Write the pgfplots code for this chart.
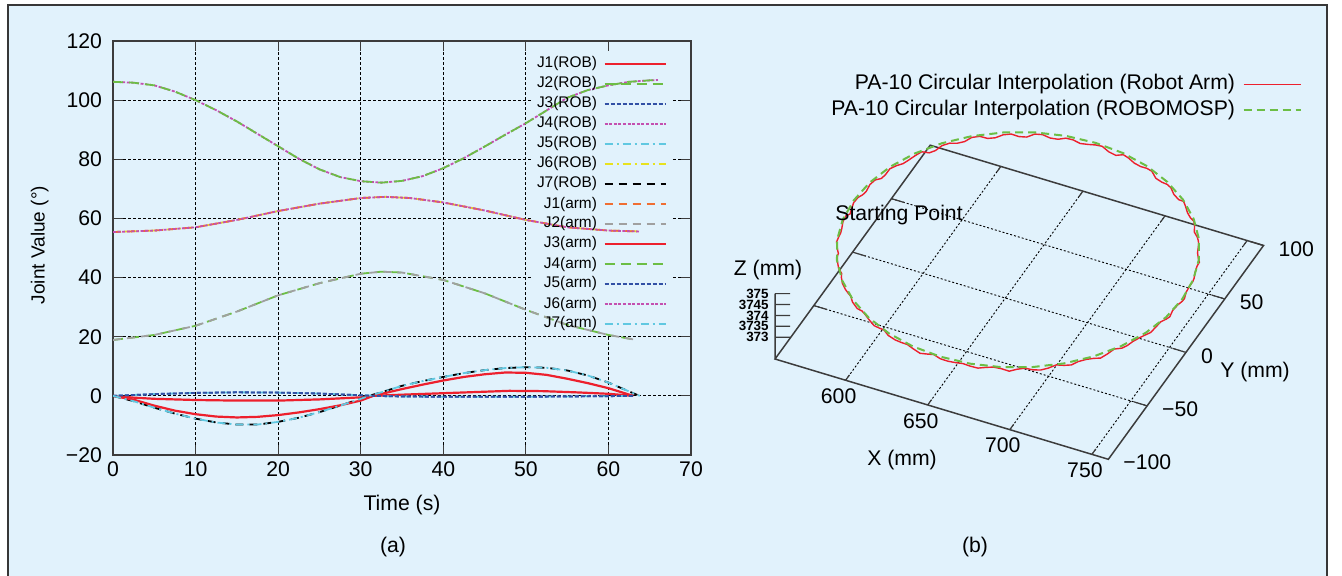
\documentclass[border=0pt]{standalone}
\usepackage{fontspec}
\setmainfont{Liberation Sans}
\usepackage{pgfplots}
\pgfplotsset{compat=1.18}

\definecolor{bgblue}{RGB}{225,242,252}
\definecolor{framegray}{RGB}{55,55,55}
\definecolor{axisgray}{RGB}{60,60,60}
\definecolor{gpred}{RGB}{237,32,45}
\definecolor{gpgreen}{RGB}{108,190,69}
\definecolor{gpblue}{RGB}{50,80,165}
\definecolor{gpmag}{RGB}{196,80,176}
\definecolor{gpcyan}{RGB}{96,200,225}
\definecolor{gpyellow}{RGB}{232,226,30}
\definecolor{gporange}{RGB}{240,110,50}
\definecolor{gpgray}{RGB}{160,160,160}

\newcommand\tickfont{\fontsize{10.6}{12}\selectfont}
\newcommand\legfont{\fontsize{7.7}{9}\selectfont}
\newcommand\ztickfont{\fontsize{6.7}{7}\selectfont\bfseries}

\begin{document}
\begin{tikzpicture}
\fill[bgblue] (4pt,-5pt) rectangle (663.5pt,285pt);

% ---------------- (a) joint values ----------------
\begin{axis}[
  at={(56.5pt,60pt)}, anchor=south west,
  scale only axis, width=289pt, height=207pt,
  xmin=0, xmax=70, ymin=-20, ymax=120,
  xtick={0,10,20,30,40,50,60,70},
  ytick={-20,0,20,40,60,80,100,120},
  yticklabels={−20,0,20,40,60,80,100,120},
  /pgf/number format/assume math mode=true,
  tick label style={font=\tickfont, text=black},
  yticklabel style={xshift=-2pt},
  tick align=inside, tick pos=both, major tick length=5pt,
  tick style={axisgray, line width=0.6pt},
  grid=major,
  grid style={black, line width=0.45pt, dash pattern=on 1.5pt off 1pt},
  axis line style={axisgray, line width=0.75pt},
  xlabel={Time (s)}, ylabel={Joint Value (°)},
  label style={font=\tickfont},
  xlabel style={at={(axis description cs:0.5,-0.121)}, anchor=center},
  ylabel style={at={(axis description cs:-0.127,0.507)}, anchor=center,
                font=\fontsize{9.5}{11}\selectfont},
  every axis plot/.append style={line width=0.9pt},
  legend cell align=right, legend plot pos=right,
  legend image code/.code={\draw[#1] (0pt,0pt) -- (30.5pt,0pt);},
  legend style={draw=none, fill=none, font=\legfont,
    at={(axis description cs:0.9585,0.965)}, anchor=north east,
    inner sep=0pt, row sep=2pt, column sep=3pt,
    nodes={inner sep=0.25pt, text height=5.8pt, text depth=1.7pt}},
]
% key background hides the grid behind the labels
\fill[bgblue] (axis cs:50.9,21) rectangle (axis cs:67.7,116.5);

\addplot[gpred, line width=1.1pt] coordinates {(0,0) (2.5,-0.6) (5,-1.0) (10,-1.4) (15,-1.6) (20,-1.6) (25,-1.2) (30,-0.5) (31.5,0) (35,0.4) (40,0.9) (45,1.4) (48,1.7) (52,1.6) (56,1.2) (60,0.7) (63,0)};
\addlegendentry{J1(ROB)}
\addplot[gpgreen, dash pattern=on 5pt off 3pt] coordinates {(0,18.9) (5,20.6) (10,23.7) (15,28.5) (20,34.0) (25,38.1) (30,41.3) (32.5,42.0) (35,41.7) (40,39.2) (45,34.7) (50,29.1) (55,24.0) (60,20.6) (63.2,19.0)};
\addlegendentry{J2(ROB)}
\addplot[gpblue, dash pattern=on 2pt off 1pt] coordinates {(0,0) (5,0.6) (10,1.0) (15,1.2) (20,1.1) (25,0.8) (30,0.2) (31.5,0) (35,-0.2) (40,-0.3) (45,-0.3) (50,-0.3) (55,-0.2) (60,-0.1) (63,0)};
\addlegendentry{J3(ROB)}
\addplot[gpmag, dash pattern=on 1.5pt off 0.8pt] coordinates {(0,106.2) (2.5,105.9) (5,105.0) (7.5,102.9) (10,100.0) (12.5,96.6) (15,92.8) (17.5,88.6) (20,84.4) (22.5,80.2) (25,76.6) (27.5,74.0) (30,72.6) (32.5,72.1) (35,72.7) (37.5,74.3) (40,77.0) (42.5,80.4) (45,84.3) (47.5,88.3) (50,92.2) (52.5,96.5) (55,100.8) (57.5,103.4) (60,105.0) (62.5,106.2) (65,106.7) (66,106.8)};
\addlegendentry{J4(ROB)}
\addplot[gpcyan, dash pattern=on 4pt off 2pt on 1pt off 2pt] coordinates {(0,0) (5,0.6) (10,1.0) (15,1.2) (20,1.1) (25,0.8) (30,0.2) (31.5,0) (35,-0.2) (40,-0.3) (45,-0.3) (50,-0.3) (55,-0.2) (60,-0.1) (63,0)};
\addlegendentry{J5(ROB)}
\addplot[gpyellow, dash pattern=on 4pt off 2pt on 1pt off 2pt] coordinates {(0,55.4) (5,55.9) (10,57.0) (15,59.5) (20,62.5) (25,65.0) (30,66.9) (33,67.3) (36,66.9) (40,65.4) (45,62.7) (50,59.5) (55,57.0) (60,55.9) (63.7,55.6)};
\addlegendentry{J6(ROB)}
\addplot[black, dash pattern=on 4pt off 3pt] coordinates {(0,0) (2.5,-1.8) (5,-4.0) (7.5,-6.0) (10,-7.7) (12.5,-9.0) (15,-9.7) (17.5,-9.7) (20,-8.8) (22.5,-7.4) (25,-5.5) (27.5,-3.3) (30,-1.0) (31,0) (32.5,1.2) (35,3.4) (37.5,5.0) (40,6.4) (42.5,7.7) (45,8.7) (47.5,9.4) (50,9.7) (52.5,9.5) (55,8.6) (57.5,6.9) (60,4.5) (62.5,1.5) (63.5,0.3)};
\addlegendentry{J7(ROB)}
\addplot[gporange, dash pattern=on 4pt off 3pt] coordinates {(0,55.4) (5,55.9) (10,57.0) (15,59.5) (20,62.5) (25,65.0) (30,66.9) (33,67.3) (36,66.9) (40,65.4) (45,62.7) (50,59.5) (55,57.0) (60,55.9) (63.7,55.6)};
\addlegendentry{J1(arm)}
\addplot[gpgray, dash pattern=on 4pt off 3pt] coordinates {(0,18.9) (5,20.6) (10,23.7) (15,28.5) (20,34.0) (25,38.1) (30,41.3) (32.5,42.0) (35,41.7) (40,39.2) (45,34.7) (50,29.1) (55,24.0) (60,20.6) (63.2,19.0)};
\addlegendentry{J2(arm)}
\addplot[gpred, line width=1.1pt] coordinates {(0,0) (2.5,-1.3) (5,-3.3) (7.5,-5.0) (10,-6.2) (12.5,-7.0) (15,-7.3) (17.5,-7.1) (20,-6.5) (22.5,-5.6) (25,-4.5) (27.5,-3.2) (30,-1.6) (31.5,0) (35,2.3) (37.5,3.8) (40,5.2) (42.5,6.4) (45,7.3) (47.5,7.9) (50,7.8) (52.5,7.1) (55,5.8) (57.5,4.3) (60,2.6) (63,0)};
\addlegendentry{J3(arm)}
\addplot[gpgreen, dash pattern=on 5pt off 3pt] coordinates {(0,106.2) (2.5,105.9) (5,105.0) (7.5,102.9) (10,100.0) (12.5,96.6) (15,92.8) (17.5,88.6) (20,84.4) (22.5,80.2) (25,76.6) (27.5,74.0) (30,72.6) (32.5,72.1) (35,72.7) (37.5,74.3) (40,77.0) (42.5,80.4) (45,84.3) (47.5,88.3) (50,92.2) (52.5,96.5) (55,100.8) (57.5,103.4) (60,105.0) (62.5,106.2) (65,106.7) (66,106.8)};
\addlegendentry{J4(arm)}
\addplot[gpblue, dash pattern=on 2pt off 1pt] coordinates {(0,0) (5,0.6) (10,1.0) (15,1.2) (20,1.1) (25,0.8) (30,0.2) (31.5,0) (35,-0.2) (40,-0.3) (45,-0.3) (50,-0.3) (55,-0.2) (60,-0.1) (63,0)};
\addlegendentry{J5(arm)}
\addplot[gpmag, dash pattern=on 1.5pt off 0.8pt] coordinates {(0,55.4) (5,55.9) (10,57.0) (15,59.5) (20,62.5) (25,65.0) (30,66.9) (33,67.3) (36,66.9) (40,65.4) (45,62.7) (50,59.5) (55,57.0) (60,55.9) (63.7,55.6)};
\addlegendentry{J6(arm)}
\addplot[gpcyan, dash pattern=on 4pt off 2pt on 1pt off 2pt] coordinates {(0,0) (2.5,-1.8) (5,-4.0) (7.5,-6.0) (10,-7.7) (12.5,-9.0) (15,-9.7) (17.5,-9.7) (20,-8.8) (22.5,-7.4) (25,-5.5) (27.5,-3.3) (30,-1.0) (31,0) (32.5,1.2) (35,3.4) (37.5,5.0) (40,6.4) (42.5,7.7) (45,8.7) (47.5,9.4) (50,9.7) (52.5,9.5) (55,8.6) (57.5,6.9) (60,4.5) (62.5,1.5) (63.8,0)};
\addlegendentry{J7(arm)}
\end{axis}

% ---------------- (b) circular interpolation, 3-D ----------------
% anchor=origin is the origin clipped to the limits: (557,0,372)
\begin{axis}[
  at={(426.3pt,161.45pt)}, anchor=origin,
  x={(0.821pt,-0.247pt)}, y={(0.388pt,0.5345pt)}, z={(0pt,10.9pt)},
  xmin=557, xmax=760, ymin=-100, ymax=100, zmin=372, zmax=375,
  hide axis, clip=false,
  legend cell align=right, legend plot pos=right,
  legend image code/.code={\draw[#1] (0pt,0pt) -- (28.5pt,0pt);},
  legend style={draw=none, fill=none, font=\tickfont,
    at={(axis cs:783.4,100,380.44)}, anchor=north east,
    inner sep=0pt, row sep=2pt, column sep=3.5pt,
    nodes={inner sep=0.25pt, text height=8pt, text depth=2.5pt}},
]
% base plane, grid, ticks
\draw[black, line width=0.45pt, dash pattern=on 1pt off 1pt]
  (axis cs:600,-100,372) -- (axis cs:600,100,372)
  (axis cs:650,-100,372) -- (axis cs:650,100,372)
  (axis cs:700,-100,372) -- (axis cs:700,100,372)
  (axis cs:750,-100,372) -- (axis cs:750,100,372)
  (axis cs:557,-50,372) -- (axis cs:760,-50,372)
  (axis cs:557,0,372) -- (axis cs:760,0,372)
  (axis cs:557,50,372) -- (axis cs:760,50,372);
\draw[axisgray, line width=0.75pt]
  (axis cs:557,-100,372) -- (axis cs:760,-100,372) -- (axis cs:760,100,372)
  -- (axis cs:557,100,372) -- cycle
  (axis cs:557,-100,372) -- (axis cs:557,-100,375);
\draw[axisgray, line width=0.6pt]
  (axis cs:600,-100,372) -- (axis cs:600,-95,372) (axis cs:600,100,372) -- (axis cs:600,95,372)
  (axis cs:650,-100,372) -- (axis cs:650,-95,372) (axis cs:650,100,372) -- (axis cs:650,95,372)
  (axis cs:700,-100,372) -- (axis cs:700,-95,372) (axis cs:700,100,372) -- (axis cs:700,95,372)
  (axis cs:750,-100,372) -- (axis cs:750,-95,372) (axis cs:750,100,372) -- (axis cs:750,95,372)
  (axis cs:760,-50,372) -- (axis cs:752,-50,372) (axis cs:557,-50,372) -- (axis cs:565,-50,372)
  (axis cs:760,0,372) -- (axis cs:752,0,372) (axis cs:557,0,372) -- (axis cs:565,0,372)
  (axis cs:760,50,372) -- (axis cs:752,50,372) (axis cs:557,50,372) -- (axis cs:565,50,372)
  (axis cs:760,100,372) -- (axis cs:752,100,372)
  (axis cs:557,-100,373) -- ++(7.5pt,0pt)
  (axis cs:557,-100,373.5) -- ++(7.5pt,0pt)
  (axis cs:557,-100,374) -- ++(7.5pt,0pt)
  (axis cs:557,-100,374.5) -- ++(7.5pt,0pt)
  (axis cs:557,-100,375) -- ++(7.5pt,0pt);
\node[font=\tickfont, xshift=-3.5pt, yshift=-8pt] at (axis cs:600,-100,372) {600};
\node[font=\tickfont, xshift=-3.5pt, yshift=-8pt] at (axis cs:650,-100,372) {650};
\node[font=\tickfont, xshift=-3.5pt, yshift=-8pt] at (axis cs:700,-100,372) {700};
\node[font=\tickfont, xshift=-3.5pt, yshift=-8pt] at (axis cs:750,-100,372) {750};
\node[font=\tickfont, anchor=west, xshift=4pt, yshift=-1.7pt] at (axis cs:760,-100,372) {−100};
\node[font=\tickfont, anchor=west, xshift=4pt, yshift=-1.7pt] at (axis cs:760,-50,372) {−50};
\node[font=\tickfont, anchor=west, xshift=4pt, yshift=-1.7pt] at (axis cs:760,0,372) {0};
\node[font=\tickfont, anchor=west, xshift=4pt, yshift=-1.7pt] at (axis cs:760,50,372) {50};
\node[font=\tickfont, anchor=west, xshift=4pt, yshift=-1.7pt] at (axis cs:760,100,372) {100};
\node[font=\ztickfont, anchor=east, xshift=-3pt, inner sep=0pt] at (axis cs:557,-100,373) {373};
\node[font=\ztickfont, anchor=east, xshift=-3pt, inner sep=0pt] at (axis cs:557,-100,373.5) {3735};
\node[font=\ztickfont, anchor=east, xshift=-3pt, inner sep=0pt] at (axis cs:557,-100,374) {374};
\node[font=\ztickfont, anchor=east, xshift=-3pt, inner sep=0pt] at (axis cs:557,-100,374.5) {3745};
\node[font=\ztickfont, anchor=east, xshift=-3pt, inner sep=0pt] at (axis cs:557,-100,375) {375};

\addplot3[gpred, line width=0.7pt] coordinates {
(757.0,1.5,374.20) (756.4,5.8,374.11) (755.3,10.1,374.15) (755.6,14.5,374.26)
(755.3,18.8,374.22) (754.1,23.0,374.14) (752.7,27.1,374.16) (751.9,31.4,374.23)
(751.3,35.8,374.19) (748.9,39.6,374.09) (746.6,43.3,374.14) (745.3,47.4,374.27)
(743.3,51.4,374.21) (740.9,55.0,374.16) (737.7,58.0,374.17) (735.9,62.1,374.21)
(733.7,65.8,374.20) (730.4,68.7,374.12) (727.1,71.6,374.15) (724.2,74.9,374.25)
(721.5,78.3,374.22) (717.6,80.4,374.10) (713.7,82.4,374.16) (710.5,85.4,374.24)
(707.0,88.0,374.19) (702.9,89.8,374.11) (698.7,90.9,374.14) (695.1,93.4,374.26)
(691.1,95.3,374.21) (686.9,96.4,374.14) (682.6,97.1,374.17) (678.5,98.6,374.23)
(674.4,100.5,374.20) (670.0,100.1,374.09) (665.6,100.2,374.15) (661.3,100.9,374.27)
(657.0,101.2,374.22) (652.7,100.9,374.16) (648.4,99.8,374.16) (644.0,100.1,374.21)
(639.6,100.1,374.19) (635.5,98.6,374.12) (631.3,97.4,374.14) (627.1,96.4,374.25)
(622.7,95.7,374.21) (618.9,93.4,374.10) (615.4,90.8,374.17) (611.1,89.8,374.24)
(607.1,88.0,374.20) (603.5,85.4,374.11) (600.3,82.5,374.15) (596.4,80.4,374.26)
(592.5,78.4,374.22) (589.8,74.9,374.14) (586.9,71.6,374.16) (583.6,68.7,374.23)
(580.4,65.8,374.19) (578.1,62.1,374.09) (576.2,58.1,374.14) (573.1,55.0,374.27)
(570.7,51.4,374.21) (568.7,47.4,374.16) (567.3,43.3,374.17) (565.1,39.6,374.21)
(562.8,35.8,374.20) (562.1,31.4,374.12) (561.6,27.1,374.15) (559.9,23.0,374.25)
(558.7,18.8,374.22) (558.4,14.5,374.10) (558.3,10.1,374.16) (557.6,5.8,374.24)
(556.9,1.5,374.19) (557.6,-2.8,374.11) (558.8,-7.1,374.14) (558.4,-11.5,374.26)
(558.6,-15.8,374.21) (559.9,-20.0,374.14) (561.2,-24.2,374.17) (562.1,-28.4,374.23)
(562.7,-32.8,374.20) (565.1,-36.6,374.09) (567.4,-40.3,374.15) (568.7,-44.4,374.27)
(570.7,-48.4,374.22) (573.1,-52.0,374.16) (576.3,-55.0,374.16) (578.1,-59.1,374.21)
(580.4,-62.8,374.19) (583.6,-65.7,374.12) (586.9,-68.6,374.14) (589.8,-71.9,374.25)
(592.5,-75.3,374.21) (596.4,-77.4,374.10) (600.3,-79.4,374.17) (603.5,-82.4,374.24)
(607.1,-84.9,374.20) (611.1,-86.8,374.11) (615.2,-88.2,374.15) (618.9,-90.4,374.26)
(622.6,-92.9,374.22) (627.1,-93.4,374.14) (631.3,-94.3,374.16) (635.5,-95.6,374.23)
(639.7,-96.9,374.19) (644.0,-97.1,374.09) (648.4,-96.8,374.14) (652.7,-97.9,374.27)
(657.0,-98.6,374.21) (661.3,-97.9,374.16) (665.7,-97.4,374.17) (670.0,-97.1,374.21)
(674.4,-97.2,374.20) (678.5,-95.6,374.12) (682.5,-93.7,374.15) (686.9,-93.4,374.25)
(691.1,-92.3,374.22) (695.1,-90.4,374.10) (698.8,-88.1,374.16) (702.9,-86.8,374.24)
(707.2,-85.4,374.19) (710.5,-82.4,374.11) (713.8,-79.7,374.14) (717.6,-77.4,374.26)
(721.3,-75.1,374.21) (724.2,-71.9,374.14) (726.7,-68.2,374.17) (730.4,-65.7,374.23)
(733.5,-62.7,374.20) (735.9,-59.1,374.09) (738.3,-55.4,374.15) (740.9,-52.0,374.27)
(744.0,-48.7,374.22) (745.3,-44.4,374.16) (746.5,-40.3,374.16) (748.9,-36.6,374.21)
(750.7,-32.6,374.19) (751.9,-28.4,374.12) (752.6,-24.1,374.14) (754.1,-20.0,374.25)
(755.6,-15.9,374.21) (755.6,-11.5,374.10) (755.3,-7.1,374.17) (756.4,-2.8,374.24)
(757.0,1.5,374.20)};
\addlegendentry{PA-10 Circular Interpolation (Robot Arm)}
\addplot3[gpgreen, line width=1pt, dash pattern=on 4pt off 2.5pt] coordinates {
(757,1.5,374.3) (755.5,18.9,374.3) (751.0,35.7,374.3) (743.6,51.5,374.3)
(733.6,65.8,374.3) (721.3,78.1,374.3) (707,88.1,374.3) (691.2,95.5,374.3)
(674.4,100.0,374.3) (657,101.5,374.3) (639.6,100.0,374.3) (622.8,95.5,374.3)
(607,88.1,374.3) (592.7,78.1,374.3) (580.4,65.8,374.3) (570.4,51.5,374.3)
(563.0,35.7,374.3) (558.5,18.9,374.3) (557,1.5,374.3) (558.5,-15.9,374.3)
(563.0,-32.7,374.3) (570.4,-48.5,374.3) (580.4,-62.8,374.3) (592.7,-75.1,374.3)
(607,-85.1,374.3) (622.8,-92.5,374.3) (639.6,-97.0,374.3) (657,-98.5,374.3)
(674.4,-97.0,374.3) (691.2,-92.5,374.3) (707,-85.1,374.3) (721.3,-75.1,374.3)
(733.6,-62.8,374.3) (743.6,-48.5,374.3) (751.0,-32.7,374.3) (755.5,-15.9,374.3)
(757,1.5,374.3)};
\addlegendentry{PA-10 Circular Interpolation (ROBOMOSP)}
\end{axis}

\node[font=\tickfont, anchor=west, inner sep=0pt] at (417.5pt,180pt) {Starting Point};
\node[font=\tickfont] at (384pt,152.5pt) {Z (mm)};
\node[font=\tickfont] at (451pt,57.5pt) {X (mm)};
\node[font=\tickfont] at (627.5pt,101.5pt) {Y (mm)};
\node[font=\tickfont] at (196.5pt,14pt) {(a)};
\node[font=\tickfont] at (487.5pt,14pt) {(b)};

\draw[framegray, line width=1pt] (4pt,-5pt) rectangle (663.5pt,285pt);
\pgfresetboundingbox
\path[use as bounding box] (0pt,0pt) rectangle (671pt,287.5pt);
\end{tikzpicture}
\end{document}
